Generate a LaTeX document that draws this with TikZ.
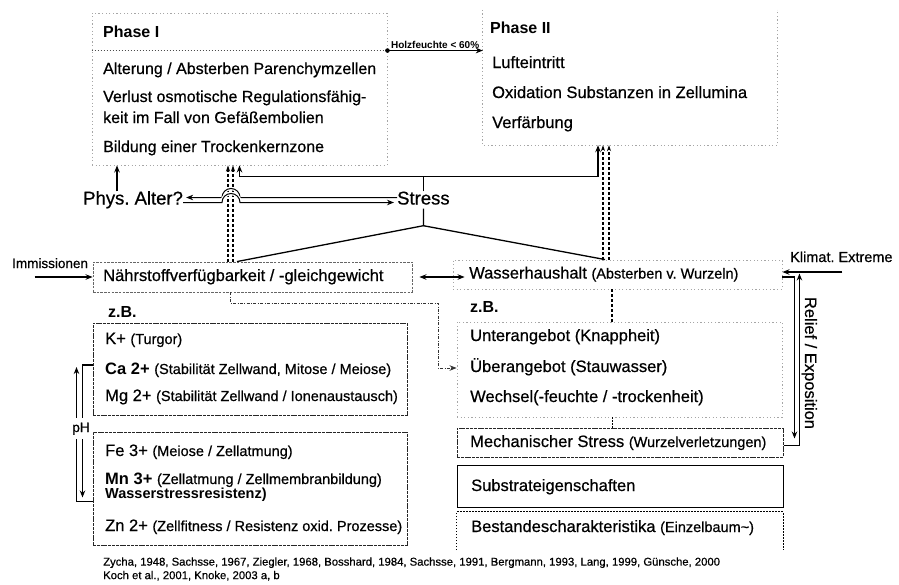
\documentclass[tikz,border=0pt]{standalone}
\usepackage{fontspec}
\setmainfont{Liberation Sans}[UprightFeatures={FakeBold=0.6}]
\usepackage{tikz}
\usetikzlibrary{arrows.meta,positioning}

\newcommand{\smtxt}[1]{{\fontsize{14.5}{17}\selectfont #1}}

\begin{document}
\frenchspacing
\begin{tikzpicture}[
  x=1pt, y=-1pt,
  >={Stealth[length=7pt,width=5.5pt]},
  txt/.style={anchor=west, inner sep=0pt, text height=11.5pt, text depth=3.5pt,
              font=\fontsize{16.5}{19}\selectfont},
  ptxt/.style={txt, font=\fontsize{16}{19}\selectfont},
  big/.style={txt, text height=13pt, text depth=4pt, font=\fontsize{18.5}{22}\selectfont},
  lbl/.style={txt, font=\fontsize{13.5}{16}\selectfont},
  hd/.style={txt, font=\fontsize{16}{19}\selectfont\bfseries},
  cite/.style={anchor=west, inner sep=0pt, align=left, font=\fontsize{11.3}{13.5}\selectfont},
  bx/.style={inner sep=0pt},
  faint/.style={draw=black!35, line width=0.9pt, dash pattern=on 1.2pt off 2.4pt},
  grey/.style={draw=black!60, line width=0.9pt, dash pattern=on 2.5pt off 1.2pt},
  dark/.style={draw=black!85, line width=1pt, dash pattern=on 3pt off 0.8pt},
  dotline/.style={draw=black, line width=1.1pt, dash pattern=on 1.5pt off 1.5pt},
  ln/.style={line width=1.3pt},
  flow/.style={->, line width=1.3pt},
  dflow/.style={-{Stealth[length=6pt,width=4pt]}, line width=1.1pt, dash pattern=on 3pt off 2pt},
  dd/.style={->, line width=0.9pt, draw=black!80, dash pattern=on 3pt off 1.5pt on 0.8pt off 1.5pt}
]
\useasboundingbox (0,0) rectangle (899,584);

\node[bx, faint, minimum width=295pt, minimum height=152pt] (ph1) at (239.5,89) {};
\node[bx, minimum width=294pt, minimum height=135pt] (ph2) at (630,77.5) {};
\draw[faint] (ph2.north west) -- (ph2.south west) -- (ph2.south east) -- (ph2.north east);
\node[bx, grey, minimum width=319pt, minimum height=30pt] (naehr) at (252.5,277) {};
\node[bx, faint, minimum width=329pt, minimum height=29pt] (wasser) at (617.5,274.5) {};
\node[bx, dark, minimum width=314pt, minimum height=92pt] (kbox) at (250,369) {};
\node[bx, dark, minimum width=314pt, minimum height=113pt] (febox) at (250,488.5) {};
\node[bx, faint, minimum width=325pt, minimum height=95pt] (wlist) at (619.5,369.5) {};
\node[bx, dark, minimum width=326pt, minimum height=29pt] (mech) at (620,442.5) {};
\node[bx, draw, line width=1pt, minimum width=326pt, minimum height=42pt] (subst) at (620,486) {};
\node[bx, minimum width=326pt, minimum height=38pt] (best) at (620,531) {};
\draw[dotline] (best.south west) -- (best.north west) -- (best.north east) -- (best.south east);

\node[hd] (t1) at (103,33) {Phase I};
\node[ptxt] (a1) at (103,70) {Alterung / Absterben Parenchymzellen};
\node[ptxt] (a2) at (103,98) {Verlust osmotische Regulationsfähig-};
\node[ptxt] (a3) at (103,119) {keit im Fall von Gefäßembolien};
\node[ptxt] (a4) at (103,148) {Bildung einer Trockenkernzone};
\node[hd] (t2) at (490,29) {Phase II};
\node[txt] (b1) at (492,64) {Lufteintritt};
\node[txt] (b2) at (492,94) {Oxidation Substanzen in Zellumina};
\node[txt] (b3) at (492,124) {Verfärbung};

\node[big] (alter) at (83,200) {Phys. Alter?};
\node[big] (stress) at (397,200) {Stress};

\node[txt] (naehrt) at (103,277) {Nährstoffverfügbarkeit / -gleichgewicht};
\node[txt] (wassert) at (469,274.5) {Wasserhaushalt \smtxt{(Absterben v. Wurzeln)}};
\node[hd] (zb1) at (108,313) {z.B.};
\node[hd] (zb2) at (470,308) {z.B.};

\node[txt] (k1) at (105,340) {K+ \smtxt{(Turgor)}};
\node[txt] (k2) at (105,370) {\textbf{Ca 2+} \smtxt{(Stabilität Zellwand, Mitose / Meiose)}};
\node[txt] (k3) at (105,397) {Mg 2+ \smtxt{(Stabilität Zellwand / Ionenaustausch)}};
\node[txt] (f1) at (105,452) {Fe 3+ \smtxt{(Meiose / Zellatmung)}};
\node[txt] (f2) at (105,480) {\textbf{Mn 3+} \smtxt{(Zellatmung / Zellmembranbildung)}};
\node[txt] (f3) at (105,494) {\smtxt{\bfseries Wasserstressresistenz)}};
\node[txt] (f4) at (105,527) {Zn 2+ \smtxt{(Zellfitness / Resistenz oxid. Prozesse)}};

\node[txt] (w1) at (470,337) {Unterangebot (Knappheit)};
\node[txt] (w2) at (470,368) {Überangebot (Stauwasser)};
\node[txt] (w3) at (470,398) {Wechsel(-feuchte / -trockenheit)};
\node[txt] (mt) at (470,443) {Mechanischer Stress \smtxt{(Wurzelverletzungen)}};
\node[txt] (st) at (471,487) {Substrateigenschaften};
\node[txt] (bt) at (471,528) {Bestandescharakteristika \smtxt{(Einzelbaum\textasciitilde)}};

\node[lbl] (immis) at (12,264) {Immissionen};
\node[lbl, font=\fontsize{14.5}{17}\selectfont] (klima) at (790,258) {Klimat. Extreme};
\node[txt, anchor=center, rotate=-90] (relief) at (809,363) {Relief / Exposition};
\node[cite] (refs) at (103,569) {Zycha, 1948, Sachsse, 1967, Ziegler, 1968, Bosshard, 1984, Sachsse, 1991, Bergmann, 1993, Lang, 1999, Günsche, 2000\\Koch et al., 2001, Knoke, 2003 a, b};

\coordinate (hf) at ([yshift=-38pt]ph1.north east);
\draw[line width=0.9pt, draw=black!70, dash pattern=on 1.5pt off 1.5pt] (hf -| ph1.west) -- (hf);
\fill (hf) circle (2.3pt);
\draw[flow] (hf) -- (hf -| ph2.west)
  node[midway, above=0.5pt, inner sep=1pt, font=\fontsize{10}{12}\selectfont\bfseries] (hft) {Holzfeuchte < 60\%};

\coordinate (pa) at ([xshift=34pt]alter.north west);
\draw[flow] (pa) -- (pa |- ph1.south);

\coordinate (d1) at ([xshift=-24.5pt]naehr.north);
\coordinate (d2) at ([xshift=-19.5pt]naehr.north);
\coordinate (d3) at ([xshift=-14.5pt]wasser.north);
\coordinate (d4) at ([xshift=-8.5pt]wasser.north);
\draw[dflow] (d1) -- (d1 |- ph1.south);
\draw[dflow] (d2) -- (d2 |- ph1.south);
\draw[dflow] (d3) -- (d3 |- ph2.south);
\draw[dflow] (d4) -- (d4 |- ph2.south);

\coordinate (sj) at ([yshift=14.5pt]stress.north);
\draw[ln] (stress.north) -- (sj);
\draw[flow] (sj) -| (ph1.south);
\draw[flow] (sj) -| ([xshift=-32pt]ph2.south);

\coordinate (fk) at ([yshift=-17pt]stress.south);
\draw[ln] (stress.south) -- (fk) -- ([xshift=-15.5pt]naehr.north);
\draw[ln] (fk) -- ([xshift=-12.5pt]wasser.north);

\draw[<-, line width=1pt, shorten <=3pt, preaction={draw=white, line width=3.5pt, -}]
  ([yshift=2.5pt]alter.east) -- (222,197.5) arc[start angle=180, end angle=360, radius=9]
  -- ([yshift=2.5pt]stress.west);
\draw[->, line width=1pt, shorten >=3pt, preaction={draw=white, line width=3.5pt, -}]
  ([yshift=-2.5pt]alter.east) -- (222,202.5) arc[start angle=180, end angle=360, radius=9]
  -- ([yshift=-2.5pt]stress.west);

\draw[<->, line width=1.1pt] ([xshift=7pt]naehr.east) -- ([xshift=12pt,yshift=-2.5pt]wasser.west);
\draw[flow] ([xshift=-58pt]naehr.west) -- (naehr.west);
\draw[flow] ([xshift=60pt,yshift=2.5pt]wasser.east) -- ([yshift=2.5pt]wasser.east);

\draw[flow] ([yshift=-2.5pt]wasser.east) -| ([xshift=11pt,yshift=4pt]mech.east);
\draw[flow] ([yshift=-3pt]mech.east) -| ([xshift=17pt,yshift=1pt]wasser.east);

\draw[flow] ([yshift=4pt]kbox.west) -| ([xshift=-10pt,yshift=-9pt]febox.west);
\draw[flow] ([yshift=-13pt]febox.west) -| ([xshift=-16pt,yshift=2pt]kbox.west);
\node[lbl, anchor=center, fill=white, inner xsep=1pt, inner ysep=3pt] (ph) at (81,428) {pH};

\coordinate (dd1) at ([xshift=-22.5pt]naehr.south);
\coordinate (dd2) at (438,303);
\draw[dd] (dd1) |- (dd2) |- (wlist.west |- w2);

\coordinate (wv) at ([xshift=-5.5pt]wasser.south);
\draw[line width=1.1pt, dash pattern=on 3pt off 2pt] (wv) -- (wv |- wlist.north);
\draw[line width=1pt, dash pattern=on 1.5pt off 1.5pt] (wv |- wlist.south) -- (wv |- mech.north);
\end{tikzpicture}
\end{document}
